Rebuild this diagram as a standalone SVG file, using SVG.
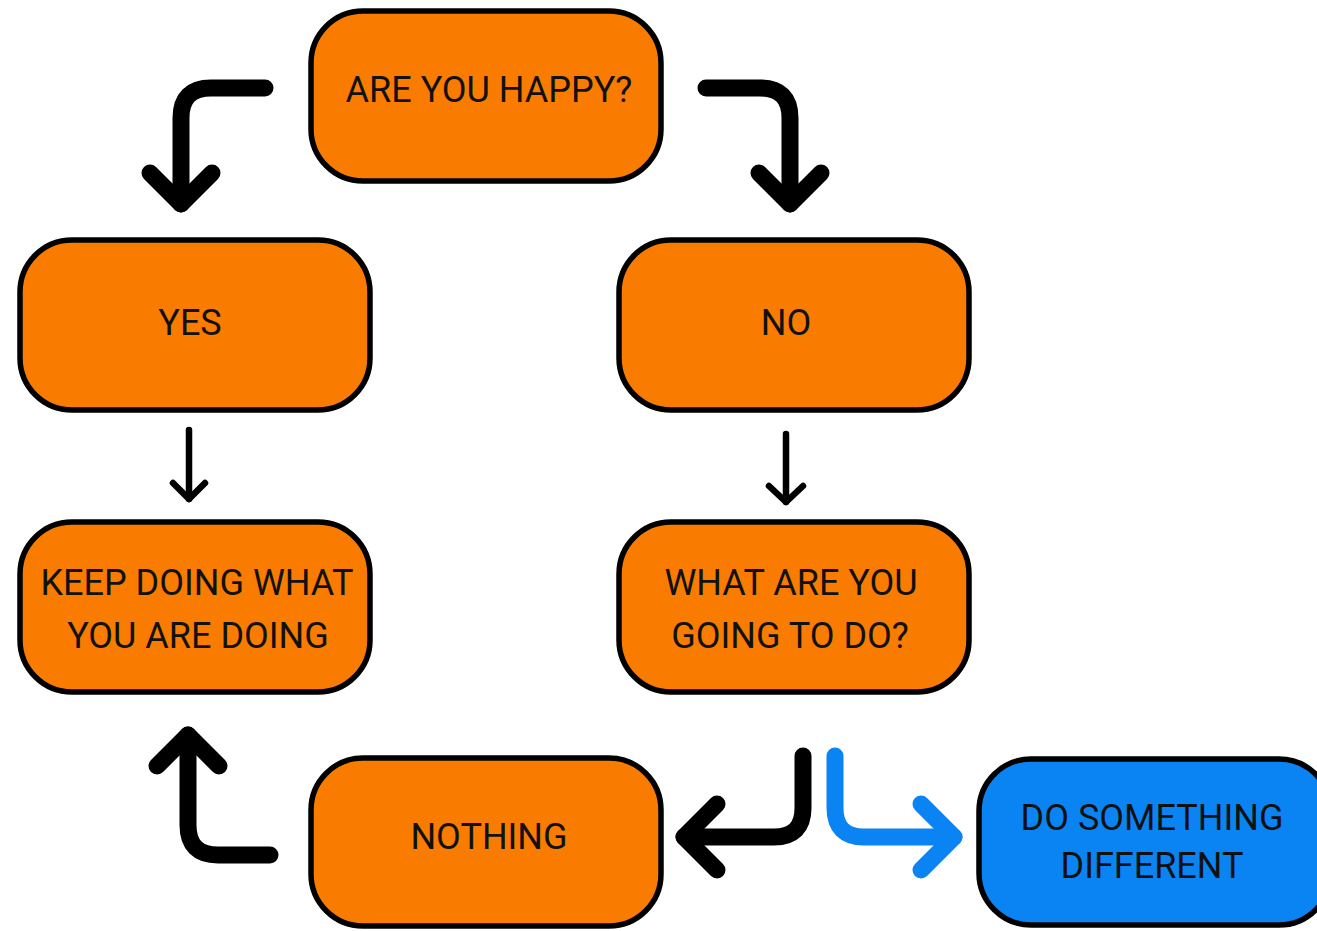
<svg xmlns="http://www.w3.org/2000/svg" width="1317" height="931" viewBox="0 0 1317 931">
<style>
.box{fill:#F97C00;stroke:#000;stroke-width:5.5}
.blue{fill:#0B84F3;stroke:#000;stroke-width:5.5}
.t{font-family:Roboto,"Liberation Sans",sans-serif;font-size:36px;fill:#111;text-anchor:middle}
.big{fill:none;stroke:#000;stroke-width:17;stroke-linecap:round;stroke-linejoin:round}
.bigb{fill:none;stroke:#0B84F3;stroke-width:17;stroke-linecap:round;stroke-linejoin:round}
.sm{fill:none;stroke:#000;stroke-width:6.5;stroke-linecap:round;stroke-linejoin:round}
</style>
<rect width="1317" height="931" fill="#fff"/>
<g id="connectors">
<path class="big" d="M265,88 H211 Q181,88 181,118 V204"/>
<polyline class="big" points="150,173 181,204 212,173"/>
<path class="big" d="M706,88 H760 Q790,88 790,118 V204"/>
<polyline class="big" points="759,173 790,204 821,173"/>
<path class="sm" d="M189,430 V499"/>
<polyline class="sm" points="173,483 189,499 205,483"/>
<path class="sm" d="M786,434 V502"/>
<polyline class="sm" points="769,486 786,502 803,486"/>
<path class="big" d="M803,756 V808 Q803,837 774,837 H684"/>
<polyline class="big" points="717,804 684,837 717,870"/>
<path class="bigb" d="M835,756 V808 Q835,837 864,837 H954"/>
<polyline class="bigb" points="921,804 954,837 921,870"/>
<path class="big" d="M270,855 H218 Q188,855 188,825 V735"/>
<polyline class="big" points="157,766 188,735 219,766"/>
</g>
<g id="n-happy">
<rect class="box" x="311" y="11" width="350" height="170" rx="52"/>
<text class="t" x="489" y="102">ARE YOU HAPPY?</text>
</g>
<g id="n-yes">
<rect class="box" x="20" y="240" width="350" height="170" rx="52"/>
<text class="t" x="190" y="335">YES</text>
</g>
<g id="n-no">
<rect class="box" x="619" y="240" width="350" height="170" rx="52"/>
<text class="t" x="786" y="335">NO</text>
</g>
<g id="n-keep">
<rect class="box" x="20" y="522" width="350" height="170" rx="52"/>
<text class="t" x="197" y="595">KEEP DOING WHAT</text>
<text class="t" x="198" y="648">YOU ARE DOING</text>
</g>
<g id="n-what">
<rect class="box" x="619" y="522" width="350" height="170" rx="52"/>
<text class="t" x="791" y="595">WHAT ARE YOU</text>
<text class="t" x="790" y="648">GOING TO DO?</text>
</g>
<g id="n-nothing">
<rect class="box" x="311" y="758" width="350" height="168" rx="52"/>
<text class="t" x="489" y="849">NOTHING</text>
</g>
<g id="n-different">
<rect class="blue" x="979" y="759" width="352" height="166" rx="52"/>
<text class="t" x="1152" y="830">DO SOMETHING</text>
<text class="t" x="1152" y="878">DIFFERENT</text>
</g>
</svg>
